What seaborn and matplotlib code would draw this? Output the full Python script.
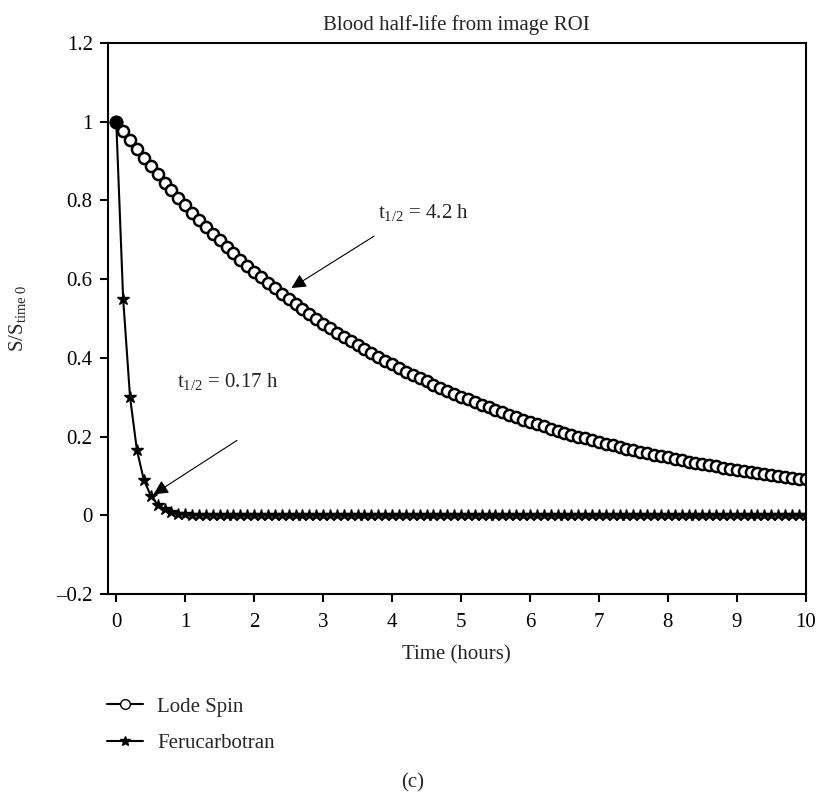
import numpy as np
import pandas as pd
import matplotlib
matplotlib.use("Agg")
import matplotlib.pyplot as plt
import seaborn as sns
from matplotlib.ticker import FuncFormatter

# sampling times (hours)
time_h = [
    0.0, 0.1, 0.2, 0.3, 0.4, 0.5, 0.6, 0.7, 0.8, 0.9,
    1.0, 1.1, 1.2, 1.3, 1.4, 1.5, 1.6, 1.7, 1.8, 1.9,
    2.0, 2.1, 2.2, 2.3, 2.4, 2.5, 2.6, 2.7, 2.8, 2.9,
    3.0, 3.1, 3.2, 3.3, 3.4, 3.5, 3.6, 3.7, 3.8, 3.9,
    4.0, 4.1, 4.2, 4.3, 4.4, 4.5, 4.6, 4.7, 4.8, 4.9,
    5.0, 5.1, 5.2, 5.3, 5.4, 5.5, 5.6, 5.7, 5.8, 5.9,
    6.0, 6.1, 6.2, 6.3, 6.4, 6.5, 6.6, 6.7, 6.8, 6.9,
    7.0, 7.1, 7.2, 7.3, 7.4, 7.5, 7.6, 7.7, 7.8, 7.9,
    8.0, 8.1, 8.2, 8.3, 8.4, 8.5, 8.6, 8.7, 8.8, 8.9,
    9.0, 9.1, 9.2, 9.3, 9.4, 9.5, 9.6, 9.7, 9.8, 9.9,
    10.0,
]

lode_spin = [
    1.000, 0.976, 0.953, 0.931, 0.908, 0.887, 0.866, 0.845, 0.825, 0.806,
    0.787, 0.768, 0.750, 0.732, 0.715, 0.698, 0.681, 0.665, 0.649, 0.634,
    0.619, 0.604, 0.590, 0.576, 0.562, 0.549, 0.536, 0.523, 0.511, 0.498,
    0.487, 0.475, 0.464, 0.453, 0.442, 0.432, 0.421, 0.411, 0.402, 0.392,
    0.383, 0.374, 0.365, 0.356, 0.348, 0.340, 0.332, 0.324, 0.316, 0.309,
    0.301, 0.294, 0.287, 0.280, 0.274, 0.267, 0.261, 0.255, 0.249, 0.243,
    0.237, 0.231, 0.226, 0.220, 0.215, 0.210, 0.205, 0.200, 0.195, 0.191,
    0.186, 0.182, 0.178, 0.173, 0.169, 0.165, 0.161, 0.158, 0.154, 0.150,
    0.147, 0.143, 0.140, 0.136, 0.133, 0.130, 0.127, 0.124, 0.121, 0.118,
    0.115, 0.113, 0.110, 0.107, 0.105, 0.102, 0.100, 0.098, 0.095, 0.093,
    0.091,
]

ferucarbotran = [
    1.000, 0.550, 0.300, 0.165, 0.090, 0.050, 0.027, 0.015, 0.008, 0.004,
    0.002, 0.001, 0.001, 0.000, 0.000, 0.000, 0.000, 0.000, 0.000, 0.000,
    0.000, 0.000, 0.000, 0.000, 0.000, 0.000, 0.000, 0.000, 0.000, 0.000,
    0.000, 0.000, 0.000, 0.000, 0.000, 0.000, 0.000, 0.000, 0.000, 0.000,
    0.000, 0.000, 0.000, 0.000, 0.000, 0.000, 0.000, 0.000, 0.000, 0.000,
    0.000, 0.000, 0.000, 0.000, 0.000, 0.000, 0.000, 0.000, 0.000, 0.000,
    0.000, 0.000, 0.000, 0.000, 0.000, 0.000, 0.000, 0.000, 0.000, 0.000,
    0.000, 0.000, 0.000, 0.000, 0.000, 0.000, 0.000, 0.000, 0.000, 0.000,
    0.000, 0.000, 0.000, 0.000, 0.000, 0.000, 0.000, 0.000, 0.000, 0.000,
    0.000, 0.000, 0.000, 0.000, 0.000, 0.000, 0.000, 0.000, 0.000, 0.000,
    0.000,
]

series_names = ["Lode Spin", "Ferucarbotran"]

sns.set_style("ticks")
plt.rcParams["font.family"] = ["Liberation Serif", "DejaVu Serif"]
plt.rcParams["mathtext.fontset"] = "custom"
plt.rcParams["mathtext.rm"] = "Liberation Serif"
plt.rcParams["mathtext.it"] = "Liberation Serif:italic"
plt.rcParams["mathtext.default"] = "regular"

FS = 15

df = pd.DataFrame({
    "Time": time_h * 2,
    "S": lode_spin + ferucarbotran,
    "Agent": [series_names[0]] * len(time_h) + [series_names[1]] * len(time_h),
})

fig = plt.figure(figsize=(8.18, 7.92), dpi=100)
ax = fig.add_axes([0.132, 0.25, 0.853, 0.696])

sns.lineplot(data=df[df.Agent == series_names[0]], x="Time", y="S", ax=ax,
             color="black", linewidth=1.0, marker="o", markersize=8,
             markerfacecolor="white", markeredgecolor="black",
             markeredgewidth=1.8, label=series_names[0])
sns.lineplot(data=df[df.Agent == series_names[1]], x="Time", y="S", ax=ax,
             color="black", linewidth=1.5, marker="*", markersize=9,
             markerfacecolor="black", markeredgecolor="black",
             markeredgewidth=1.0, label=series_names[1])
# filled start point
ax.plot(time_h[0], ferucarbotran[0], "o", color="black", markersize=9, zorder=5)

ax.set_xlim(-0.12, 10)
ax.set_ylim(-0.2, 1.2)
ax.set_xticks(range(0, 11))
ax.set_yticks([-0.2, 0, 0.2, 0.4, 0.6, 0.8, 1.0, 1.2])
ax.yaxis.set_major_formatter(FuncFormatter(lambda v, p: f"{v:g}".replace("-", "\u2013")))

for s in ax.spines.values():
    s.set_visible(True)
    s.set_linewidth(1.5)
    s.set_color("black")
ax.tick_params(direction="out", length=6, width=1.5, labelsize=FS, colors="black")
ax.tick_params(axis="x", pad=8)
ax.tick_params(axis="y", pad=5)

ax.set_xlabel("Time (hours)", fontsize=FS, labelpad=9)
ax.set_ylabel(r"S/S$_{\mathregular{time\ 0}}$", fontsize=FS, labelpad=20)
ax.set_title("Blood half-life from image ROI", fontsize=FS, pad=9)

ax.annotate(r"t$_{1/2}$ = 4.2 h", xy=(3.80, 0.77), fontsize=FS,
            va="center", ha="left")
ax.annotate("", xy=(2.54, 0.577), xytext=(3.74, 0.709),
            arrowprops=dict(arrowstyle="-|>", color="black", lw=0.8,
                            mutation_scale=22, shrinkA=0, shrinkB=0))
ax.annotate(r"t$_{1/2}$ = 0.17 h", xy=(0.88, 0.34), fontsize=FS,
            va="center", ha="left")
ax.annotate("", xy=(0.54, 0.053), xytext=(1.75, 0.19),
            arrowprops=dict(arrowstyle="-|>", color="black", lw=0.8,
                            mutation_scale=22, shrinkA=0, shrinkB=0))

leg = ax.legend(loc="upper left", bbox_to_anchor=(-0.013, -0.172), frameon=False,
                fontsize=FS, handlelength=1.7, labelspacing=0.8,
                borderaxespad=0, handletextpad=0.7)
for h in leg.legend_handles:
    h.set_markersize(7)
    h.set_markeredgewidth(1.0)
    h.set_linewidth(1.5)

fig.text(0.505, 0.011, "(c)", ha="center", va="center", fontsize=FS)

fig.savefig("out.png", dpi=100)
